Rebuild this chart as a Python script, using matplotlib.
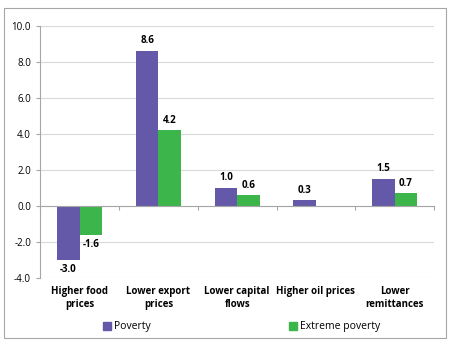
import numpy as np
import matplotlib.pyplot as plt
from matplotlib.patches import Rectangle, Patch

plt.rcParams['font.family'] = ['Open Sans', 'DejaVu Sans']

categories = ['Higher food\nprices', 'Lower export\nprices', 'Lower capital\nflows',
              'Higher oil prices', 'Lower\nremittances']
poverty = [-3.0, 8.6, 1.0, 0.3, 1.5]
extreme = [-1.6, 4.2, 0.6, None, 0.7]

purple = '#6459a8'
green = '#3cb54a'

fig = plt.figure(figsize=(4.56, 3.47), dpi=100)
ax = fig.add_axes([0.088, 0.199, 0.864, 0.727])

x = np.arange(len(categories))
w = 0.285

ax.bar(x - w / 2, poverty, w, color=purple, zorder=3)
ext_vals = [v if v is not None else 0 for v in extreme]
ax.bar(x + w / 2, ext_vals, w, color=green, zorder=3)

# value labels
for xi, v in zip(x - w / 2, poverty):
    off = 0.25 if v >= 0 else -0.25
    ax.text(xi, v + off, f'{v:.1f}', ha='center', va='bottom' if v >= 0 else 'top',
            fontsize=7, fontweight='bold')
for xi, v in zip(x + w / 2, extreme):
    if v is None:
        continue
    off = 0.25 if v >= 0 else -0.25
    ax.text(xi, v + off, f'{v:.1f}', ha='center', va='bottom' if v >= 0 else 'top',
            fontsize=7, fontweight='bold')

ax.set_xlim(-0.5, len(categories) - 0.5)
ax.set_ylim(-4, 10)
ax.set_yticks(np.arange(-4, 11, 2))
ax.set_yticklabels([f'{t:.1f}' for t in np.arange(-4, 11, 2)], fontsize=7)
ax.yaxis.grid(True, color='#d9d9d9', linewidth=0.8, zorder=0)

ax.spines['top'].set_visible(False)
ax.spines['right'].set_visible(False)
ax.spines['left'].set_color('#a6a6a6')
ax.spines['bottom'].set_position(('data', 0))
ax.spines['bottom'].set_color('#a6a6a6')
ax.spines['bottom'].set_zorder(4)
ax.tick_params(axis='y', colors='#a6a6a6', labelcolor='black', length=3, width=0.8)
ax.set_xticks(np.arange(len(categories) + 1) - 0.5)
ax.set_xticklabels([])
ax.tick_params(axis='x', colors='#a6a6a6', length=3, width=0.8)

# category names below the plot area
for xi, name in zip(x, categories):
    ax.text(xi, -0.03, name, transform=ax.get_xaxis_transform(), ha='center', va='top',
            fontsize=7, fontweight='bold', linespacing=1.25)

handles = [Patch(color=purple, label='Poverty'), Patch(color=green, label='Extreme poverty')]
fig.legend(handles=handles, loc='center', bbox_to_anchor=(0.53, 0.058), ncol=2,
           frameon=False, fontsize=7.5, handlelength=0.8, handleheight=0.8,
           handletextpad=0.3, columnspacing=13.2)

fig.patches.append(Rectangle((0.009, 0.026), 0.969, 0.951, transform=fig.transFigure,
                             fill=False, edgecolor='#a6a6a6', linewidth=0.8))

fig.savefig('out.png', dpi=100)
